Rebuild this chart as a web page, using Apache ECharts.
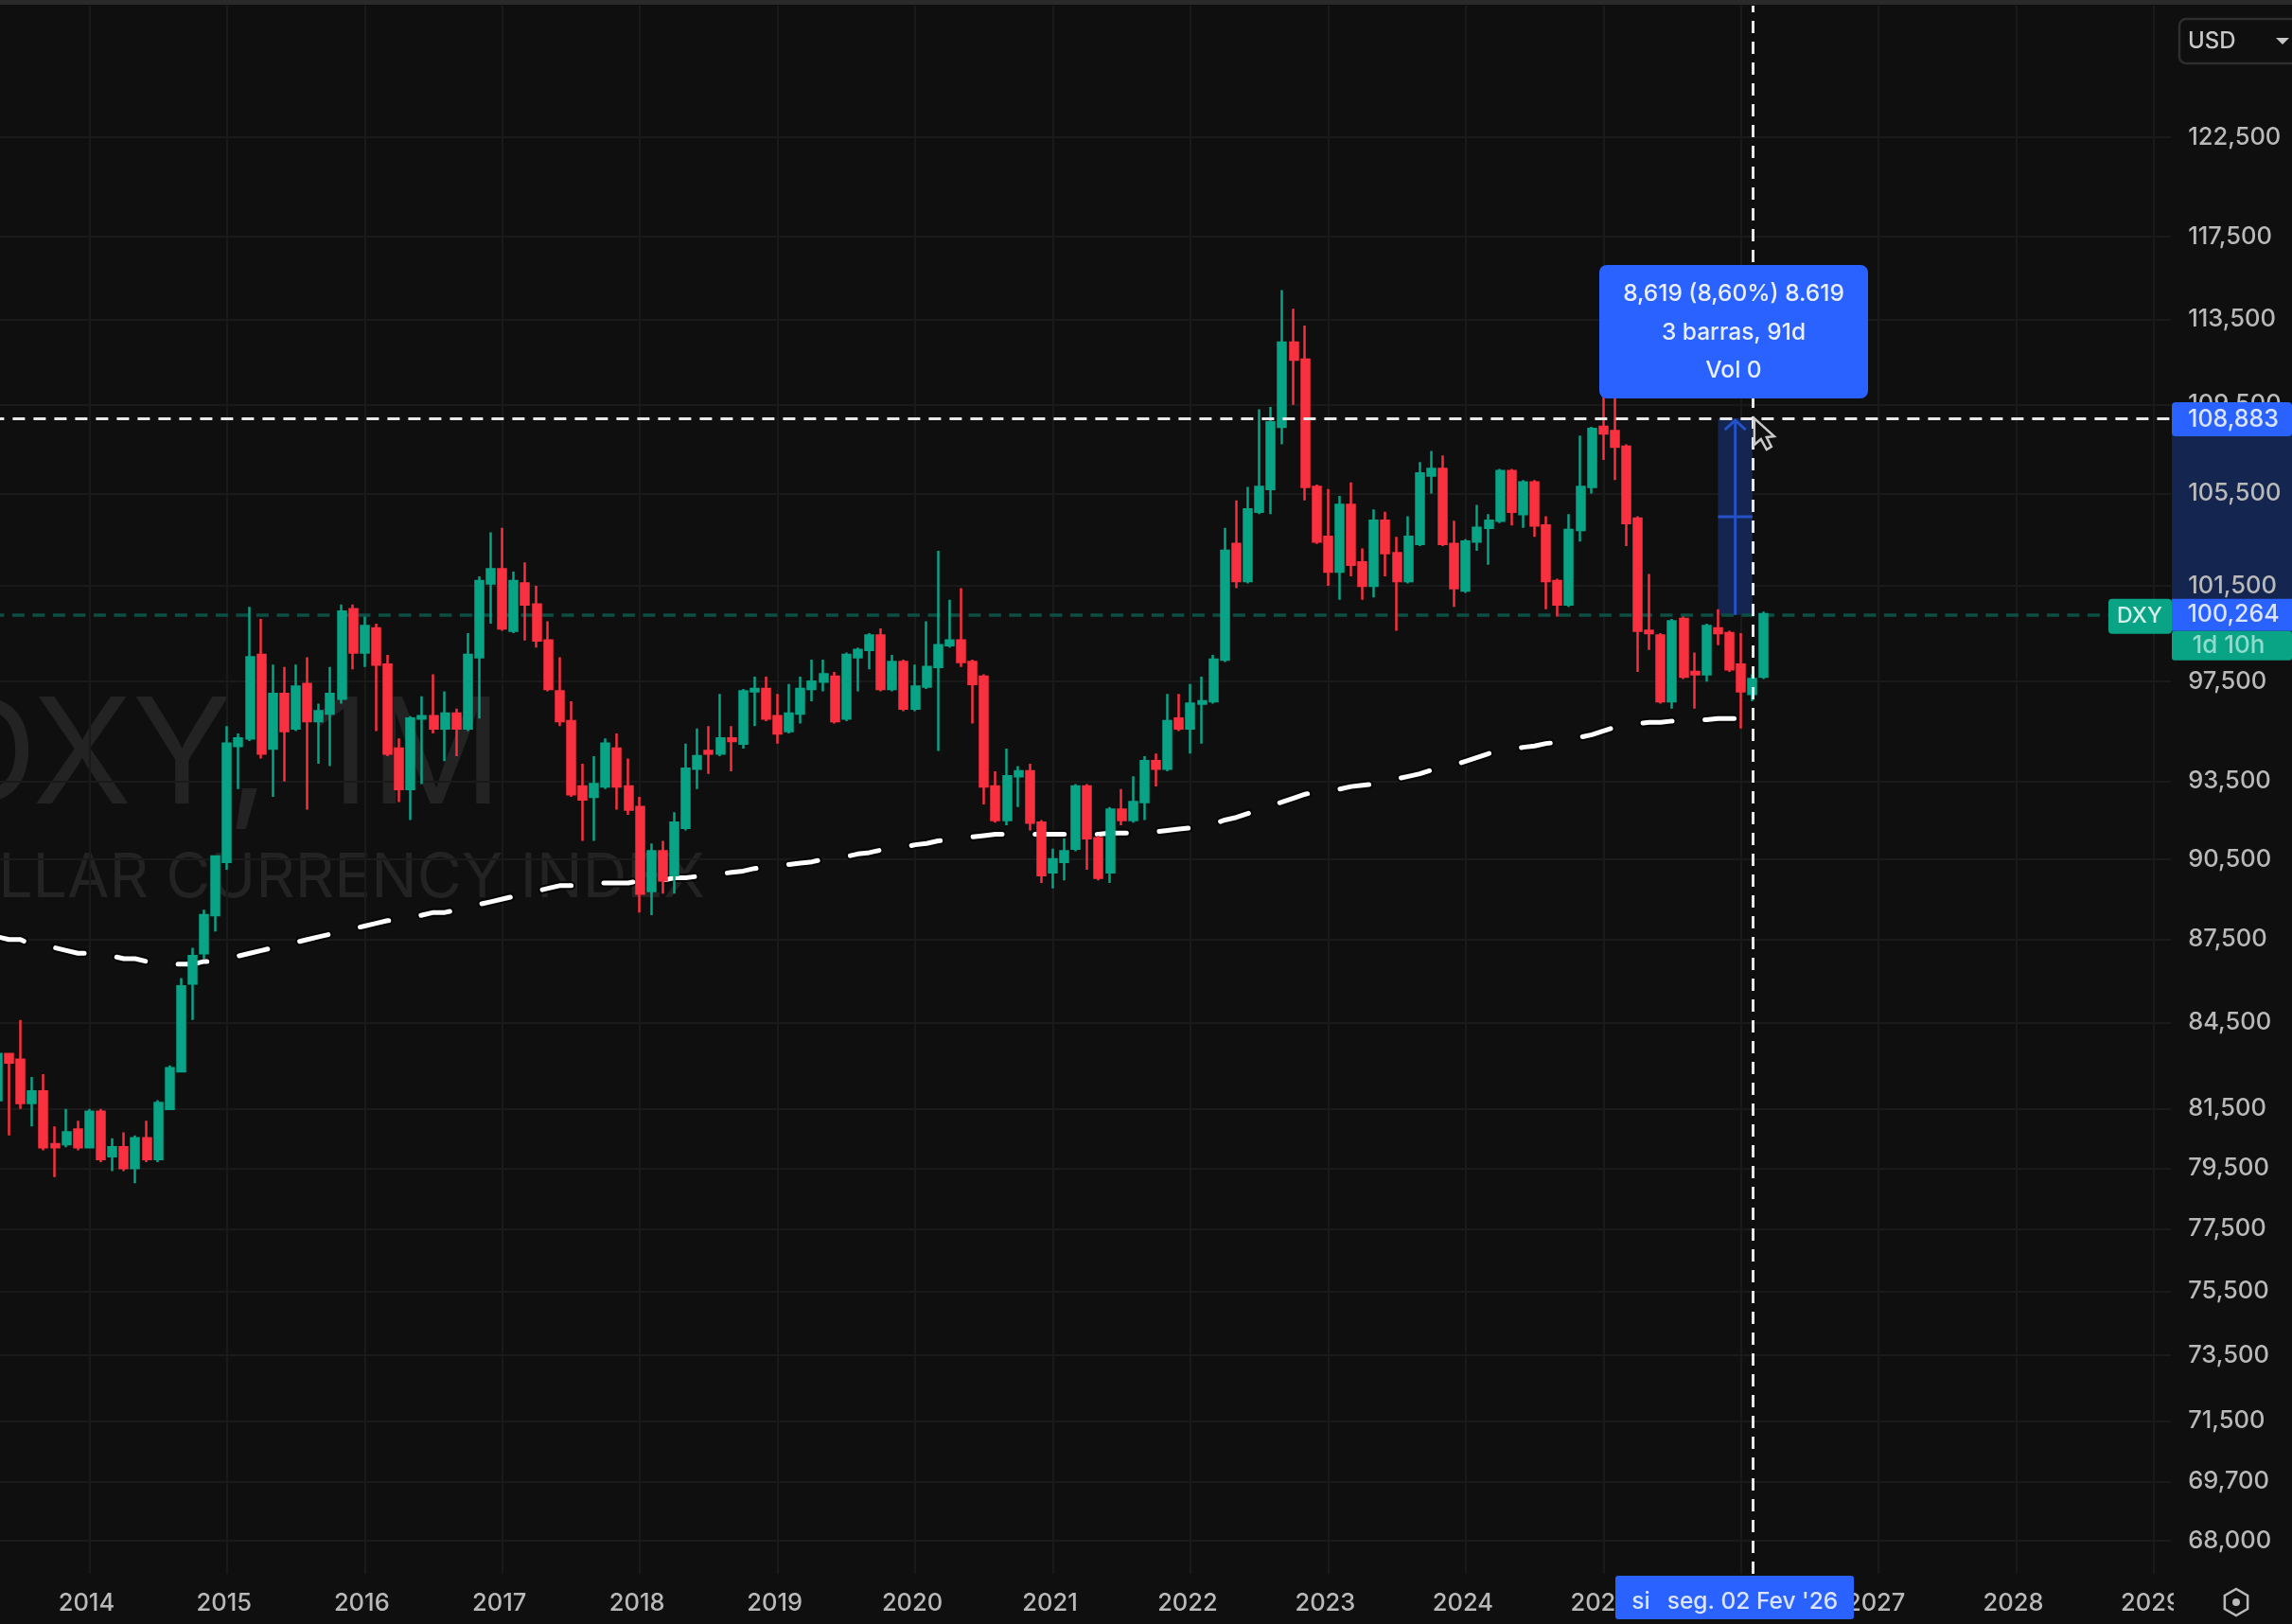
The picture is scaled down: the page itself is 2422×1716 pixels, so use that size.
<!DOCTYPE html>
<html><head><meta charset="utf-8">
<style>html,body{margin:0;padding:0;background:#0f0f0f}#c{width:2422px;height:1716px}</style>
<script src="https://cdn.jsdelivr.net/npm/echarts@6/dist/echarts.min.js"></script>
</head><body><div id="c"></div>
<script>
// [open, close, low, high], monthly
const y2013 = [[81.8,83.4,81.7,83.6],[83.4,83.1,80.6,83.4],[83.2,81.7,81.5,84.6],[81.7,82.1,80.9,82.6],[82.1,80.2,80.1,82.7],[80.3,80.2,79.2,80.9],[80.3,80.7,80.2,81.5],[80.8,80.2,80.1,81.1]];
const y2014 = [[80.2,81.4,80.2,81.5],[81.4,79.8,79.7,81.5],[79.9,80.2,79.4,80.5],[80.2,79.5,79.4,80.7],[79.5,80.5,79.0,80.6],[80.5,79.8,79.7,81.1],[79.8,81.7,79.7,81.8],[81.5,82.9,81.5,83.0],[82.8,85.8,82.8,86.1],[85.9,86.9,84.6,87.2],[87.0,88.4,86.8,88.6],[88.4,90.6,87.8,90.6]];
const y2015 = [[90.4,95.0,90.1,95.7],[94.9,95.2,93.2,95.4],[95.2,98.5,95.1,100.6],[98.6,94.6,94.4,100.1],[94.8,97.0,92.9,98.2],[97.0,95.5,93.5,98.1],[95.6,97.3,95.5,98.2],[97.4,95.9,92.4,98.5],[95.9,96.3,94.2,96.6],[96.2,97.0,94.1,98.1],[96.8,100.4,96.6,100.7],[100.5,98.7,98.0,100.7]];
const y2016 = [[98.7,99.8,98.1,100.2],[99.7,98.2,95.5,99.9],[98.2,94.6,94.5,98.6],[94.8,93.2,92.7,95.2],[93.2,96.0,92.0,96.1],[96.0,96.1,93.4,96.9],[96.1,95.6,95.4,97.8],[95.6,96.2,94.3,97.1],[96.2,95.6,94.5,96.4],[95.6,98.6,95.5,99.5],[98.5,101.7,96.0,101.9],[101.6,102.2,99.9,103.8]];
const y2017 = [[102.2,99.7,99.6,104.0],[99.6,101.7,99.5,102.1],[101.6,100.7,99.2,102.5],[100.7,99.2,98.9,101.5],[99.2,97.2,97.1,100.0],[97.1,95.9,95.7,98.5],[95.9,93.0,92.9,96.7],[93.3,92.8,91.2,94.2],[92.9,93.4,91.2,94.5],[93.3,95.0,93.2,95.2],[94.8,93.3,92.4,95.4],[93.3,92.4,92.2,94.4]];
const y2018 = [[92.5,89.2,88.5,92.9],[89.3,90.8,88.4,91.1],[90.8,89.7,89.2,91.2],[89.9,91.9,89.2,92.3],[91.7,94.0,91.6,95.0],[94.0,94.5,93.2,95.6],[94.7,94.6,93.8,95.7],[94.6,95.2,94.5,97.0],[95.2,95.1,93.9,95.7],[95.0,97.1,94.8,97.2],[97.1,97.2,95.7,97.7],[97.2,96.0,95.9,97.7]];
const y2019 = [[96.1,95.4,95.0,97.0],[95.5,96.2,95.4,97.4],[96.2,97.2,95.8,97.7],[97.2,97.5,96.7,98.4],[97.5,97.8,97.1,98.4],[97.7,95.9,95.8,97.9],[96.0,98.6,95.9,98.7],[98.5,98.8,97.1,98.9],[98.8,99.4,98.0,99.5],[99.4,97.2,97.1,99.7],[97.2,98.3,97.1,98.6],[98.3,96.4,96.3,98.4]];
const y2020 = [[96.4,97.3,96.3,98.2],[97.3,98.1,97.2,100.0],[98.1,99.0,94.7,103.0],[99.0,99.2,98.9,100.9],[99.2,98.3,98.1,101.4],[98.3,97.4,95.8,98.4],[97.7,93.3,92.6,97.8],[93.3,92.0,91.9,93.9],[92.0,93.7,91.8,94.8],[93.7,93.9,92.5,94.1],[93.9,91.9,91.6,94.2],[91.9,89.9,89.6,92.0]];
const y2021 = [[90.0,90.5,89.4,90.9],[90.4,90.8,89.7,91.3],[90.9,93.3,90.8,93.4],[93.3,91.3,90.1,93.4],[91.3,89.8,89.7,91.4],[90.0,92.4,89.6,92.5],[92.4,92.0,91.8,93.2],[92.0,92.7,91.9,93.7],[92.7,94.3,92.0,94.5],[94.3,94.0,93.3,94.6],[94.0,95.9,93.9,97.0],[96.0,95.6,95.5,97.0]];
const y2022 = [[95.6,96.6,94.6,97.4],[96.6,96.7,95.0,97.7],[96.7,98.4,96.6,98.6],[98.4,103.0,98.3,104.0],[103.3,101.7,101.4,105.2],[101.7,104.8,101.6,105.8],[104.7,105.8,104.6,109.3],[105.7,108.7,104.6,109.4],[108.5,112.4,107.7,114.9],[112.4,111.6,109.5,114.0],[111.6,105.8,105.2,113.2],[105.8,103.4,103.3,105.9]];
const y2023 = [[103.6,102.1,101.5,105.7],[102.1,105.0,100.9,105.4],[105.0,102.4,101.9,106.0],[102.5,101.5,100.9,103.1],[101.5,104.3,101.0,104.8],[104.3,102.9,101.9,104.7],[102.9,101.7,99.6,103.6],[101.7,103.6,101.6,104.5],[103.3,106.4,103.2,106.9],[106.3,106.6,105.5,107.4],[106.6,103.3,103.2,107.2],[103.3,101.4,100.6,104.3]];
const y2024 = [[101.3,103.4,101.2,103.5],[103.4,104.0,103.0,105.0],[104.0,104.3,102.4,104.6],[104.3,106.5,104.2,106.6],[106.5,104.7,104.1,106.6],[104.6,106.0,104.0,106.1],[106.0,104.1,103.6,106.1],[104.1,101.7,100.5,104.5],[101.7,100.7,100.2,101.8],[100.7,103.9,100.6,104.6],[103.9,105.8,103.4,108.1],[105.8,108.4,105.5,108.5]];
const y2025 = [[108.5,108.2,107.0,110.1],[108.3,107.6,106.1,110.0],[107.6,104.2,103.2,107.7],[104.4,99.6,97.9,104.5],[99.6,99.5,98.8,102.0],[99.4,96.7,96.6,99.5],[96.7,100.0,96.4,100.1],[100.1,97.7,97.6,100.2],[97.9,97.8,96.4,98.7],[97.8,99.8,97.5,99.9],[99.7,99.5,99.0,100.5],[99.5,98.0,97.9,99.6]];
const y2026 = [[98.2,97.1,95.6,99.5],[97.0,97.6,96.7,97.8],[97.7,100.3,97.6,100.4]];

// long dashed trend line, monthly from the same start (May 2013)
const trendLine = [87.6,87.5,87.5,87.3,87.2,87.2,87.1,87.0,
87.0,86.9,86.9,86.8,86.8,86.7,86.6,86.6,86.6,86.6,86.7,86.7,
86.8,86.9,87.0,87.1,87.2,87.3,87.4,87.5,87.6,87.7,87.8,87.9,
88.0,88.1,88.2,88.2,88.3,88.4,88.5,88.5,88.6,88.7,88.8,88.9,
89.0,89.1,89.2,89.3,89.4,89.5,89.5,89.5,89.6,89.6,89.6,89.6,
89.7,89.7,89.7,89.8,89.8,89.85,89.9,89.95,90.0,90.05,90.15,90.2,
90.25,90.3,90.35,90.4,90.5,90.55,90.6,90.7,90.75,90.85,90.9,90.95,
91.05,91.1,91.2,91.25,91.3,91.35,91.4,91.45,91.45,91.45,91.45,91.45,
91.45,91.45,91.45,91.45,91.45,91.5,91.5,91.5,91.55,91.55,91.6,91.65,
91.7,91.75,91.85,92.0,92.1,92.25,92.4,92.55,92.7,92.85,93.0,93.1,
93.15,93.2,93.3,93.35,93.4,93.5,93.6,93.7,93.8,93.95,94.05,94.15,
94.3,94.45,94.6,94.7,94.75,94.85,94.9,95.0,95.05,95.15,95.25,95.35,
95.5,95.65,95.75,95.8,95.85,95.85,95.9,95.9,95.95,95.95,96.0,96.0,
96.0,96.0,96.05];

const priceTicks = [122.5,117.5,113.5,109.5,105.5,101.5,97.5,93.5,90.5,87.5,84.5,81.5,79.5,77.5,75.5,73.5,71.5,69.7,68.0];
const lastPrice = 100.264;
const crossPrice = 108.883;
const crossMonth = '2026-02';
const rangeStartMonth = '2025-11';
const measureLines = ['8,619 (8,60%) 8.619','3 barras, 91d','Vol 0'];
const crossDateLabel = "seg. 02 Fev '26";
const currencyLabel = 'USD';
const countdownLabel = '1d 10h';
const symbolLabel = 'DXY';
const watermarkTitle = 'DXY, 1M';
const watermarkSub = 'DOLLAR CURRENCY INDEX';

const candles = [].concat(y2013,y2014,y2015,y2016,y2017,y2018,y2019,y2020,y2021,y2022,y2023,y2024,y2025,y2026);
const months = [];
for (let y = 2013, m = 5; y < 2029 || (y === 2029 && m <= 2); m++) {
  if (m > 12) { m = 1; y++; }
  months.push(y + '-' + String(m).padStart(2,'0'));
}
const isJan = (i, v) => v.endsWith('-01');
const FONT = 'Inter';
const GRID = '#1a1a1a', TXT = '#b9b9b9', BLUE = '#2962ff', GREEN = '#09a386', RED = '#f9303f', BG = '#0f0f0f';
const fmtPrice = v => v.toFixed(3).replace('.', ',');

// the dashed trend line: each point placed by the axes, then cut into dashes along its length
const DASH_ON = 31, DASH_OFF = 34.7, DASH_START_X = -5;
function renderTrend(params, api) {
  if (params.dataIndex !== 0) return null;
  const pts = trendLine.map((v, i) => api.coord([i, v]));
  const period = DASH_ON + DASH_OFF;
  const dashes = [];
  let cur = null, walked = pts[0][0] - DASH_START_X;
  for (let i = 1; i < pts.length; i++) {
    const a = pts[i-1], b = pts[i];
    const len = Math.hypot(b[0]-a[0], b[1]-a[1]);
    let t = 0;
    while (t < len) {
      const phase = ((walked + t) % period + period) % period;
      const isOn = phase < DASH_ON;
      const step = Math.max(Math.min(len - t, (isOn ? DASH_ON : period) - phase), 1e-6);
      if (isOn) {
        const at = k => [a[0]+(b[0]-a[0])*k/len, a[1]+(b[1]-a[1])*k/len];
        if (!cur) { cur = [at(t)]; dashes.push(cur); }
        cur.push(at(t+step));
      } else cur = null;
      t += step;
    }
    walked += len;
  }
  const mk = (stroke, lineWidth) => dashes.map(d => ({type:'polyline', shape:{points:d}, style:{stroke, lineWidth, lineCap:'round', lineJoin:'round', fill:null}, silent:true}));
  return {type:'group', children:mk('#050505',9).concat(mk('#ffffff',5))};
}

const chart = echarts.init(document.getElementById('c'), null, {renderer:'canvas', width:2422, height:1716});
chart.setOption({
  animation:false, backgroundColor:BG,
  grid:{left:-8.6, top:6, width:2302.8, height:1657, containLabel:false, outerBoundsMode:'none'},
  xAxis:{type:'category', data:months, boundaryGap:true,
    axisLine:{show:false},
    axisTick:{show:false, alignWithLabel:true, interval:isJan},
    splitLine:{show:true, alignWithLabel:true, interval:isJan, lineStyle:{color:GRID, width:2}},
    axisLabel:{interval:isJan, formatter:v=>v.slice(0,4), color:TXT, fontFamily:FONT, fontSize:25.5, fontWeight:500, margin:18, hideOverlap:false, padding:[0,6,0,0]}},
  yAxis:{type:'log', logBase:Math.E, position:'right', min:67.06, max:129.46,
    axisLine:{show:false},
    axisTick:{show:false, customValues:priceTicks},
    splitLine:{show:true, lineStyle:{color:GRID, width:2}},
    minorTick:{show:false}, minorSplitLine:{show:false},
    axisLabel:{customValues:priceTicks, formatter:v=>fmtPrice(+v), color:TXT, fontFamily:FONT, fontSize:25.5, fontWeight:500, margin:18, align:'left', padding:[0,0,11,0], hideOverlap:false, showMinLabel:true, showMaxLabel:true}},
  series:[
    {type:'line', name:'levels', data:[], z:1, showSymbol:false, silent:true,
      markArea:{silent:true, itemStyle:{color:'#14264f'}, data:[[{xAxis:rangeStartMonth, yAxis:crossPrice},{xAxis:crossMonth, yAxis:lastPrice}]]},
      markLine:{silent:true, z:1, symbol:'none', label:{show:false}, animation:false,
        lineStyle:{color:'#0c4f43', width:3.5, type:[13,8.5]}, data:[{yAxis:lastPrice}]}},
    {type:'custom', name:'trend', z:1, silent:true, coordinateSystem:'cartesian2d', clip:false,
      data:trendLine.map((v,i)=>[i,v]), encode:{x:0,y:1}, renderItem:renderTrend},
    {type:'candlestick', name:'DXY', data:candles, z:2, barWidth:8.5, silent:true,
      itemStyle:{color:GREEN, color0:RED, borderColor:GREEN, borderColor0:RED, borderWidth:2.5}},
    {type:'line', name:'crosshair', data:[], z:3, silent:true, showSymbol:false,
      markLine:{silent:true, z:3, symbol:'none', label:{show:false}, animation:false,
        lineStyle:{color:'#e8e8e8', width:3, type:[13,9]}, data:[{yAxis:crossPrice},{xAxis:crossMonth}]}}
  ]
});

// overlays anchored through the chart's own scales
const P = (c,v) => chart.convertToPixel({seriesIndex:2},[c,v]);
const [xCross, yCross] = P(crossMonth, crossPrice);
const [xStart, yLast] = P(rangeStartMonth, lastPrice);
const xMid = (xStart + xCross) / 2, yMidR = (yCross + yLast) / 2;
const txt = (x,y,t,o={}) => ({type:'text', z:o.z==null?20:o.z, style:{x, y, text:t, fill:o.fill||'#fff', font:(o.weight||500)+' '+(o.size||25)+'px '+FONT, textAlign:o.align||'center', textVerticalAlign:o.va||'middle', opacity:o.opacity==null?1:o.opacity}});
const rect = (x,y,w,h,fill,r,z) => ({type:'rect', z:z==null?20:z, shape:{x,y,width:w,height:h,r:r||0}, style:{fill}});
const hex = [];
for (let i=0;i<6;i++){const a=Math.PI/6+i*Math.PI/3; hex.push([2363+14*Math.cos(a),1693+14*Math.sin(a)]);}

const elements = [
  txt(531,880,watermarkTitle,{size:155,weight:400,fill:'#232323',align:'right',va:'bottom',z:-1}),
  txt(745,961,watermarkSub,{size:64.5,weight:400,fill:'#232323',align:'right',va:'bottom',z:-1}),
  rect(0,0,2422,5,'#2a2a2a'),
  // range arrow
  {type:'line', z:4, shape:{x1:xMid,y1:yCross+2,x2:xMid,y2:yLast}, style:{stroke:'#2450c8',lineWidth:3}},
  {type:'polyline', z:4, shape:{points:[[xMid-11,yCross+12],[xMid,yCross+2],[xMid+11,yCross+12]]}, style:{stroke:'#2450c8',lineWidth:3,fill:'none'}},
  {type:'line', z:4, shape:{x1:xStart,y1:yMidR,x2:xCross,y2:yMidR}, style:{stroke:'#2450c8',lineWidth:3}},
  // measure box
  rect(1690,280,284,141,BLUE,8),
  txt(1832,311,measureLines[0],{size:24.5,opacity:.9}),
  txt(1832,352,measureLines[1],{size:24.5,opacity:.9}),
  txt(1832,392,measureLines[2],{size:24.5,opacity:.9}),
  // cursor
  {type:'polygon', z:21, shape:{points:[[xCross+2,yCross],[xCross+2,yCross+28],[xCross+9,yCross+22],[xCross+15,yCross+33],[xCross+20,yCross+30],[xCross+15,yCross+20],[xCross+23,yCross+19]]}, style:{fill:'#0f0f0f',stroke:'#c8c8c8',lineWidth:2.5}},
  // price axis panel
  rect(2295,yCross,127,yLast-yCross,'#14264f',0,-1),
  rect(2295,yCross-17,127,36,BLUE,4),
  txt(2360,yCross+1,fmtPrice(crossPrice),{fill:'#dbe4ff',size:25}),
  rect(2295,yLast-17,127,34,BLUE,0),
  txt(2360,yLast,fmtPrice(lastPrice),{fill:'#dbe4ff',size:25}),
  rect(2295,yLast+17,127,31,GREEN,3),
  txt(2355,yLast+32,countdownLabel,{fill:'#8fdccc',size:26}),
  rect(2228,yLast-17,67,37,GREEN,4),
  txt(2261,yLast+1,symbolLabel,{fill:'#d4efe9',size:23}),
  // date tag + corner
  rect(2297,1664,125,52,BG,0,10),
  rect(1707,1665,252,46,BLUE,3),
  txt(1734,1693,'si',{fill:'#dbe4ff',size:24.5}),
  txt(1852,1693,crossDateLabel,{fill:'#dbe4ff',size:24.5}),
  {type:'polygon', z:21, shape:{points:hex}, style:{fill:'none',stroke:'#b9b9b9',lineWidth:2.5}},
  {type:'circle', z:21, shape:{cx:2363,cy:1693,r:4}, style:{fill:'#b9b9b9'}},
  // currency
  {type:'rect', z:20, shape:{x:2303,y:20,width:130,height:47,r:7}, style:{fill:'#0f0f0f',stroke:'#2e2e2e',lineWidth:2.5}},
  txt(2312,44,currencyLabel,{align:'left',fill:'#c8c8c8',size:24}),
  {type:'polygon', z:21, shape:{points:[[2405,40],[2419,40],[2412,47]]}, style:{fill:'#c8c8c8'}}
];
chart.setOption({graphic:{elements}});
</script></body></html>
